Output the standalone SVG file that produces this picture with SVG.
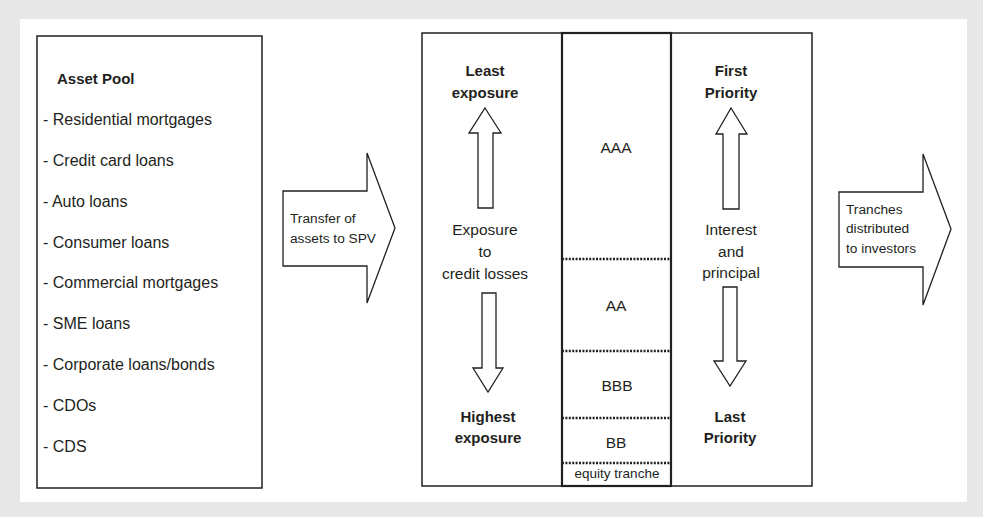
<svg xmlns="http://www.w3.org/2000/svg" width="988" height="519" viewBox="0 0 988 519">
<style>
text{font-family:"Liberation Sans",Arial,sans-serif;fill:#231f20}
.li{font-size:16px}
.b{font-weight:bold;font-size:15px}
.m{font-size:15.5px;text-anchor:middle}
.s{font-size:13.7px}
.box{fill:#fff;stroke:#231f20;stroke-width:1.5}
.arr{fill:#fff;stroke:#231f20;stroke-width:1.3;stroke-linejoin:miter}
.dot{stroke:#231f20;stroke-width:2.5;stroke-dasharray:2 1.4;fill:none}
</style>
<rect x="0" y="0" width="988" height="519" fill="#fff"/>
<rect x="0" y="0" width="983" height="517" fill="#e6e7e6"/>
<rect x="20" y="19" width="947" height="483" fill="#fff"/>

<g id="asset-pool">
<rect class="box" x="37" y="36" width="225" height="452"/>
<text class="b" x="57" y="84">Asset Pool</text>
<text class="li" x="43" y="125">- Residential mortgages</text>
<text class="li" x="43" y="166">- Credit card loans</text>
<text class="li" x="43" y="207">- Auto loans</text>
<text class="li" x="43" y="248">- Consumer loans</text>
<text class="li" x="43" y="288">- Commercial mortgages</text>
<text class="li" x="43" y="329">- SME loans</text>
<text class="li" x="43" y="370">- Corporate loans/bonds</text>
<text class="li" x="43" y="411">- CDOs</text>
<text class="li" x="43" y="452">- CDS</text>
</g>

<g id="connectors">
<g id="transfer-arrow">
<polygon class="arr" points="283,191 367,191 367,153 395,228 367,303 367,266 283,266"/>
<text class="s" x="290" y="223">Transfer of</text>
<text class="s" x="290" y="243">assets to SPV</text>
</g>
<g id="distribute-arrow">
<polygon class="arr" points="839,192 923,192 923,154 951,229 923,305 923,267 839,267"/>
<text class="s" x="846" y="214">Tranches</text>
<text class="s" x="846" y="233">distributed</text>
<text class="s" x="846" y="253">to investors</text>
</g>
</g>

<g id="spv">
<rect class="box" x="422" y="33" width="390" height="453"/>
<g id="exposure-column">
<text class="b" x="485" y="76" text-anchor="middle">Least</text>
<text class="b" x="485" y="98" text-anchor="middle">exposure</text>
<polygon class="arr" points="485,108 501,133 493,133 493,208 478,208 478,133 469,133"/>
<text class="m" x="485" y="235">Exposure</text>
<text class="m" x="485" y="257">to</text>
<text class="m" x="485" y="279">credit losses</text>
<polygon class="arr" points="482,293 496,293 496,368 503,368 488,392 473,368 482,368"/>
<text class="b" x="488" y="422" text-anchor="middle">Highest</text>
<text class="b" x="488" y="443" text-anchor="middle">exposure</text>
</g>
<g id="tranches">
<rect x="562" y="33" width="109" height="453" fill="none" stroke="#231f20" stroke-width="2.2"/>
<line class="dot" x1="562" y1="259" x2="671" y2="259"/>
<line class="dot" x1="562" y1="351" x2="671" y2="351"/>
<line class="dot" x1="562" y1="418" x2="671" y2="418"/>
<line class="dot" x1="562" y1="463" x2="671" y2="463"/>
<text class="m" x="616" y="153">AAA</text>
<text class="m" x="616" y="311">AA</text>
<text class="m" x="617" y="391">BBB</text>
<text class="m" x="616" y="448">BB</text>
<text x="617" y="478" text-anchor="middle" font-size="13.5">equity tranche</text>
</g>
<g id="priority-column">
<text class="b" x="731" y="76" text-anchor="middle">First</text>
<text class="b" x="731" y="98" text-anchor="middle">Priority</text>
<polygon class="arr" points="731,108 747,134 739,134 739,209 723,209 723,134 716,134"/>
<text class="m" x="731" y="235">Interest</text>
<text class="m" x="731" y="257">and</text>
<text class="m" x="731" y="278">principal</text>
<polygon class="arr" points="723,287 737,287 737,361 746,361 730,386 714,361 723,361"/>
<text class="b" x="730" y="422" text-anchor="middle">Last</text>
<text class="b" x="730" y="443" text-anchor="middle">Priority</text>
</g>
</g>
</svg>
